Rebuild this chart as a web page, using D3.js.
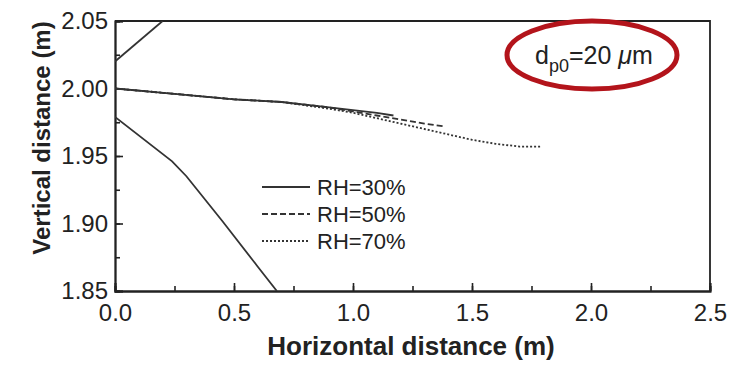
<!DOCTYPE html>
<html>
<head>
<meta charset="utf-8">
<script src="https://cdn.jsdelivr.net/npm/d3@7"></script>
<style>
  body { margin: 0; background: #fff; }
  text { font-family: "Liberation Sans", Arial, sans-serif; fill: #222; }
</style>
</head>
<body>
<div id="chart"></div>
<script>
var svgWidth = 730;
var svgHeight = 366;

var margin = { top: 21, right: 20, bottom: 75, left: 115 };
var width = svgWidth - margin.left - margin.right;
var height = svgHeight - margin.top - margin.bottom;

// data (x in m, y in m)
var rh30X = [0, 0.25, 0.5, 0.7, 0.9, 1.0, 1.1, 1.17];
var rh30Y = [2.000, 1.996, 1.992, 1.990, 1.986, 1.984, 1.982, 1.980];
var rh50X = [0, 0.25, 0.5, 0.7, 0.9, 1.0, 1.1, 1.2, 1.3, 1.38];
var rh50Y = [2.000, 1.996, 1.992, 1.990, 1.986, 1.983, 1.980, 1.977, 1.974, 1.972];
var rh70X = [0, 0.25, 0.5, 0.7, 0.9, 1.0, 1.1, 1.2, 1.3, 1.4, 1.5, 1.6, 1.7, 1.79];
var rh70Y = [2.000, 1.996, 1.992, 1.990, 1.985, 1.982, 1.978, 1.974, 1.970, 1.966, 1.962, 1.959, 1.957, 1.957];
var upperX = [0, 0.2];
var upperY = [2.020, 2.050];
var lowerX = [0, 0.24, 0.3, 0.45, 0.6, 0.68];
var lowerY = [1.979, 1.946, 1.935, 1.902, 1.868, 1.850];

var legendLabels = ["RH=30%", "RH=50%", "RH=70%"];
var xTicks = [0, 0.5, 1.0, 1.5, 2.0, 2.5];
var yTicks = [1.85, 1.90, 1.95, 2.00, 2.05];

var svg = d3.select("#chart")
  .append("svg")
  .attr("width", svgWidth)
  .attr("height", svgHeight);

var chartGroup = svg.append("g")
  .attr("transform", `translate(${margin.left}, ${margin.top})`);

var xLinearScale = d3.scaleLinear().domain([0, 2.5]).range([0, width]);
var yLinearScale = d3.scaleLinear().domain([1.85, 2.05]).range([height, 0]);

// minor ticks (inward)
var bottomMinor = d3.axisBottom(xLinearScale)
  .tickValues(d3.range(0, 2.51, 0.25)).tickSize(-5).tickFormat("");
var leftMinor = d3.axisLeft(yLinearScale)
  .tickValues(d3.range(1.85, 2.051, 0.025)).tickSize(-5).tickFormat("");
// major ticks
var bottomAxis = d3.axisBottom(xLinearScale)
  .tickValues(xTicks).tickSize(-8).tickPadding(13).tickFormat(d3.format(".1f"));
var leftAxis = d3.axisLeft(yLinearScale)
  .tickValues(yTicks).tickSize(-8).tickPadding(7).tickFormat(d3.format(".2f"));

chartGroup.append("g").attr("transform", `translate(0, ${height})`).call(bottomMinor);
chartGroup.append("g").call(leftMinor);
var xAxis = chartGroup.append("g").attr("transform", `translate(0, ${height})`).call(bottomAxis);
var yAxis = chartGroup.append("g").call(leftAxis);

chartGroup.selectAll(".domain").attr("stroke", "#222").attr("stroke-width", 1.8);
chartGroup.selectAll(".tick line").attr("stroke", "#222").attr("stroke-width", 1.6);
xAxis.selectAll("text").style("font-size", "24px").attr("fill", "#222");
yAxis.selectAll("text").style("font-size", "24px").attr("fill", "#222");

// top + right frame
chartGroup.append("path")
  .attr("d", `M0,0H${width}V${height}`)
  .attr("fill", "none")
  .attr("stroke", "#222")
  .attr("stroke-width", 1.8);

var clip = chartGroup.append("clipPath").attr("id", "plotclip");
clip.append("rect").attr("width", width).attr("height", height);

var line = d3.line()
  .x(d => xLinearScale(d[0]))
  .y(d => yLinearScale(d[1]));

function pairs(xs, ys) {
  return xs.map((x, i) => [x, ys[i]]);
}

var series = [
  { pts: pairs(upperX, upperY), dash: null },
  { pts: pairs(lowerX, lowerY), dash: null },
  { pts: pairs(rh70X, rh70Y), dash: "2,2" },
  { pts: pairs(rh50X, rh50Y), dash: "6,3" },
  { pts: pairs(rh30X, rh30Y), dash: null }
];

chartGroup.append("g").attr("clip-path", "url(#plotclip)")
  .selectAll("path")
  .data(series)
  .enter()
  .append("path")
  .attr("d", d => line(d.pts))
  .attr("fill", "none")
  .attr("stroke", "#333")
  .attr("stroke-width", 1.8)
  .attr("stroke-dasharray", d => d.dash);

// legend
var legendDash = [null, "6,3", "2,2"];
var legend = svg.append("g");
legendLabels.forEach(function(lab, i) {
  var y = 187 + i * 27;
  legend.append("line")
    .attr("x1", 262).attr("x2", 310)
    .attr("y1", y).attr("y2", y)
    .attr("stroke", "#333")
    .attr("stroke-width", 1.8)
    .attr("stroke-dasharray", legendDash[i]);
  legend.append("text")
    .attr("x", 317).attr("y", y + 8)
    .style("font-size", "22px")
    .text(lab);
});

// annotation
svg.append("ellipse")
  .attr("cx", 592).attr("cy", 55)
  .attr("rx", 85).attr("ry", 34)
  .attr("fill", "none")
  .attr("stroke", "#b3141b")
  .attr("stroke-width", 5);

var ann = svg.append("text")
  .attr("x", 535).attr("y", 64)
  .style("font-size", "25px");
ann.append("tspan").text("d");
ann.append("tspan").attr("dy", 8).style("font-size", "18px").text("p0");
ann.append("tspan").attr("dy", -8).text("=20 ");
ann.append("tspan").style("font-style", "italic").text("\u03bc");
ann.append("tspan").text("m");

// axis labels
svg.append("text")
  .attr("x", 411)
  .attr("y", 355)
  .attr("text-anchor", "middle")
  .style("font-size", "26px")
  .style("font-weight", "bold")
  .text("Horizontal distance (m)");

svg.append("text")
  .attr("transform", "rotate(-90)")
  .attr("x", -138)
  .attr("y", 50)
  .attr("text-anchor", "middle")
  .style("font-size", "24px")
  .style("font-weight", "bold")
  .text("Vertical distance (m)");
</script>
</body>
</html>
